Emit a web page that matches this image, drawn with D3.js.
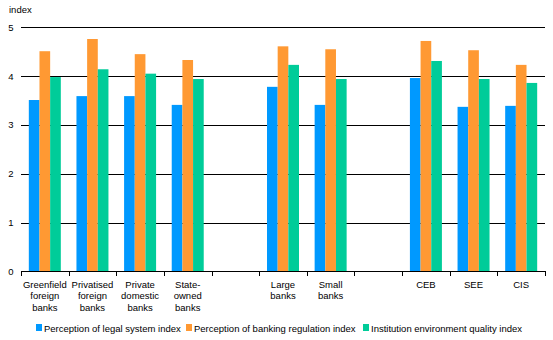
<!DOCTYPE html>
<html>
<head>
<meta charset="utf-8">
<script src="https://cdn.jsdelivr.net/npm/d3@7"></script>
<style>
  body { margin: 0; background: #fff; }
  svg text { font-family: "Liberation Sans", Arial, sans-serif; font-size: 9.5px; fill: #000; }
</style>
</head>
<body>
<div class="chart"></div>
<script>
// categories (empty ones are spacer slots in the original)
var categories = [
  ["Greenfield", "foreign", "banks"],
  ["Privatised", "foreign", "banks"],
  ["Private", "domestic", "banks"],
  ["State-", "owned", "banks"],
  [],
  ["Large", "banks"],
  ["Small", "banks"],
  [],
  ["CEB"],
  ["SEE"],
  ["CIS"]
];
var legalSystem     = [3.51, 3.59, 3.59, 3.41, null, 3.78, 3.41, null, 3.96, 3.37, 3.39];
var bankingReg      = [4.51, 4.76, 4.45, 4.33, null, 4.61, 4.55, null, 4.72, 4.53, 4.23];
var institutionEnv  = [3.98, 4.14, 4.05, 3.94, null, 4.23, 3.94, null, 4.31, 3.94, 3.86];
var seriesNames = ["Perception of legal system index", "Perception of banking regulation index", "Institution environment quality index"];
var colors = ["#0099ff", "#ff9933", "#00cc99"];
var yTicks = [0, 1, 2, 3, 4, 5];

var W = 553, H = 340,
    margin = {left: 21, right: 545, top: 27.3, bottom: 271.3};

var svg = d3.select(".chart").append("svg")
  .attr("width", W).attr("height", H);

var idx = d3.range(categories.length);
var x = d3.scaleBand().domain(idx).range([margin.left, margin.right]).paddingInner(0).paddingOuter(0);
var y = d3.scaleLinear().domain([0, 5]).range([margin.bottom, margin.top]);

// gridlines
svg.append("g").selectAll("line").data(yTicks).enter().append("line")
  .attr("x1", margin.left).attr("x2", margin.right)
  .attr("y1", d => Math.round(y(d)) + 0.5).attr("y2", d => Math.round(y(d)) + 0.5)
  .attr("stroke", "#000").attr("stroke-width", 1);

// y labels
svg.append("g").selectAll("text").data(yTicks).enter().append("text")
  .attr("x", 13.5).attr("y", d => y(d) + 3.5)
  .attr("text-anchor", "end")
  .text(d => d);

svg.append("text").attr("x", 9).attr("y", 13).text("index");

// bars
var groupW = 32;
var x1 = d3.scaleBand().domain([0, 1, 2]).range([0, groupW]);
var series = [legalSystem, bankingReg, institutionEnv];
series.forEach(function(vals, s) {
  svg.append("g").selectAll("rect").data(vals.map((v, i) => ({v: v, i: i})).filter(d => d.v != null))
    .enter().append("rect")
    .attr("x", d => x(d.i) + (x.bandwidth() - groupW) / 2 + x1(s))
    .attr("width", x1.bandwidth())
    .attr("y", d => y(d.v))
    .attr("height", d => y(0) - y(d.v))
    .attr("fill", colors[s]);
});

// redraw baseline over bars
svg.append("line")
  .attr("x1", margin.left).attr("x2", margin.right)
  .attr("y1", Math.round(y(0)) + 0.5).attr("y2", Math.round(y(0)) + 0.5)
  .attr("stroke", "#000");

// x axis ticks
var tickXs = d3.range(categories.length + 1).map(i => margin.left + i * x.step());
svg.append("g").selectAll("line").data(tickXs).enter().append("line")
  .attr("x1", d => Math.round(d) + 0.5).attr("x2", d => Math.round(d) + 0.5)
  .attr("y1", Math.round(margin.bottom)).attr("y2", Math.round(margin.bottom) + 5)
  .attr("stroke", "#000");

// x labels
var lbl = svg.append("g").selectAll("text").data(categories).enter().append("text")
  .attr("text-anchor", "middle")
  .attr("x", (d, i) => x(i) + x.bandwidth() / 2);
lbl.selectAll("tspan").data(d => d).enter().append("tspan")
  .attr("x", function() { return d3.select(this.parentNode).attr("x"); })
  .attr("y", (d, j) => 287.5 + j * 11.7)
  .text(d => d);

// legend
var legX = [36, 186, 363];
var leg = svg.append("g").selectAll("g").data(seriesNames).enter().append("g")
  .attr("transform", (d, i) => "translate(" + legX[i] + ",324)");
leg.append("rect").attr("width", 6).attr("height", 7).attr("fill", (d, i) => colors[i]);
leg.append("text").attr("x", 8).attr("y", 7.5).text(d => d);
</script>
</body>
</html>
